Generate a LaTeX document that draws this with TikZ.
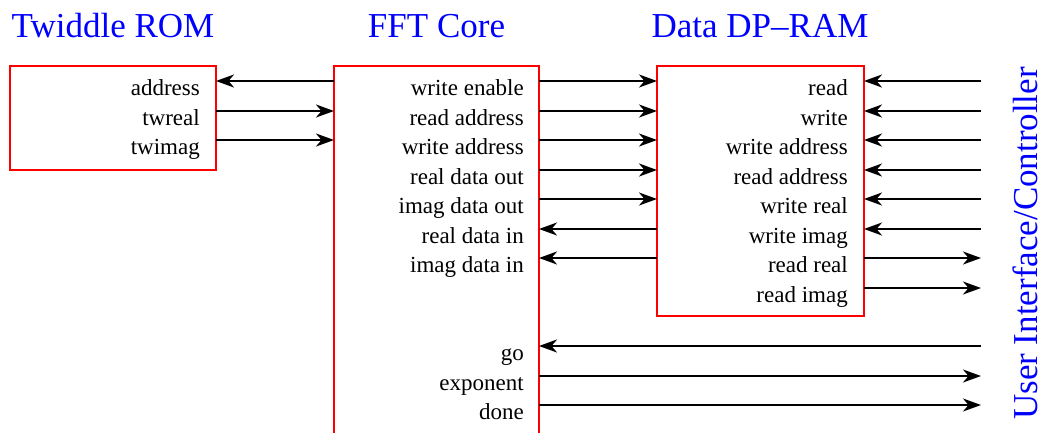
\documentclass[tikz,border=0pt]{standalone}
\usepackage{fontspec}
\setmainfont{Liberation Serif}
\usetikzlibrary{arrows.meta}
\begin{document}
\begin{tikzpicture}[x=1pt,y=-1pt,
  blk/.style={draw=red, line width=2pt, rectangle, inner sep=0pt, outer sep=0pt, anchor=north west},
  lab/.style={font=\fontsize{23}{27}\selectfont, inner sep=0pt, anchor=base east},
  ttl/.style={font=\fontsize{35}{40}\selectfont, text=blue, inner sep=0pt, anchor=base},
  sig/.style={line width=2pt, -{Stealth[length=18pt,width=13pt,inset=5.5pt]}}]
\clip (0,0) rectangle (1042,432);
% blocks
\node[blk, minimum width=206pt, minimum height=104pt] (rom) at (10,66) {};
\node[blk, minimum width=205pt, minimum height=400pt] (core) at (334,66) {};
\node[blk, minimum width=207pt, minimum height=250pt] (ram) at (657,66) {};
\coordinate (ui) at (981,0);
% titles
\node[ttl] (trom) at (113,37) {Twiddle ROM};
\node[ttl] (tcore) at (436.5,37) {FFT Core};
\node[ttl] (tram) at (760,37) {Data DP--RAM};
\node[ttl, rotate=90] (tui) at (1037,243.5) {User Interface/Controller};
% rom labels
\node[lab] (r1) at (200,95.5) {address};
\node[lab] (r2) at (200,125) {twreal};
\node[lab] (r3) at (200,154.5) {twimag};
% core labels
\node[lab] (c1) at (524,95.5) {write enable};
\node[lab] (c2) at (524,125) {read address};
\node[lab] (c3) at (524,154.5) {write address};
\node[lab] (c4) at (524,184) {real data out};
\node[lab] (c5) at (524,213.5) {imag data out};
\node[lab] (c6) at (524,243) {real data in};
\node[lab] (c7) at (524,272.5) {imag data in};
\node[lab] (c8) at (524,360.5) {go};
\node[lab] (c9) at (524,390) {exponent};
\node[lab] (c10) at (524,419.5) {done};
% ram labels
\node[lab] (m1) at (848,95.5) {read};
\node[lab] (m2) at (848,125) {write};
\node[lab] (m3) at (848,154.5) {write address};
\node[lab] (m4) at (848,184) {read address};
\node[lab] (m5) at (848,213.5) {write real};
\node[lab] (m6) at (848,243) {write imag};
\node[lab] (m7) at (848,272.5) {read real};
\node[lab] (m8) at (848,302) {read imag};
% rom <-> core
\draw[sig] (core.west |- 0,81) -- (rom.east |- 0,81);
\draw[sig] (rom.east |- 0,111) -- (core.west |- 0,111);
\draw[sig] (rom.east |- 0,140) -- (core.west |- 0,140);
% core <-> ram
\draw[sig] (core.east |- 0,81) -- (ram.west |- 0,81);
\draw[sig] (core.east |- 0,111) -- (ram.west |- 0,111);
\draw[sig] (core.east |- 0,140) -- (ram.west |- 0,140);
\draw[sig] (core.east |- 0,170) -- (ram.west |- 0,170);
\draw[sig] (core.east |- 0,199) -- (ram.west |- 0,199);
\draw[sig] (ram.west |- 0,229) -- (core.east |- 0,229);
\draw[sig] (ram.west |- 0,258) -- (core.east |- 0,258);
% ui <-> ram
\draw[sig] (ui |- 0,81) -- (ram.east |- 0,81);
\draw[sig] (ui |- 0,111) -- (ram.east |- 0,111);
\draw[sig] (ui |- 0,140) -- (ram.east |- 0,140);
\draw[sig] (ui |- 0,170) -- (ram.east |- 0,170);
\draw[sig] (ui |- 0,199) -- (ram.east |- 0,199);
\draw[sig] (ui |- 0,229) -- (ram.east |- 0,229);
\draw[sig] (ram.east |- 0,258) -- (ui |- 0,258);
\draw[sig] (ram.east |- 0,288) -- (ui |- 0,288);
% ui <-> core
\draw[sig] (ui |- 0,346) -- (core.east |- 0,346);
\draw[sig] (core.east |- 0,376) -- (ui |- 0,376);
\draw[sig] (core.east |- 0,405) -- (ui |- 0,405);
\end{tikzpicture}
\end{document}
